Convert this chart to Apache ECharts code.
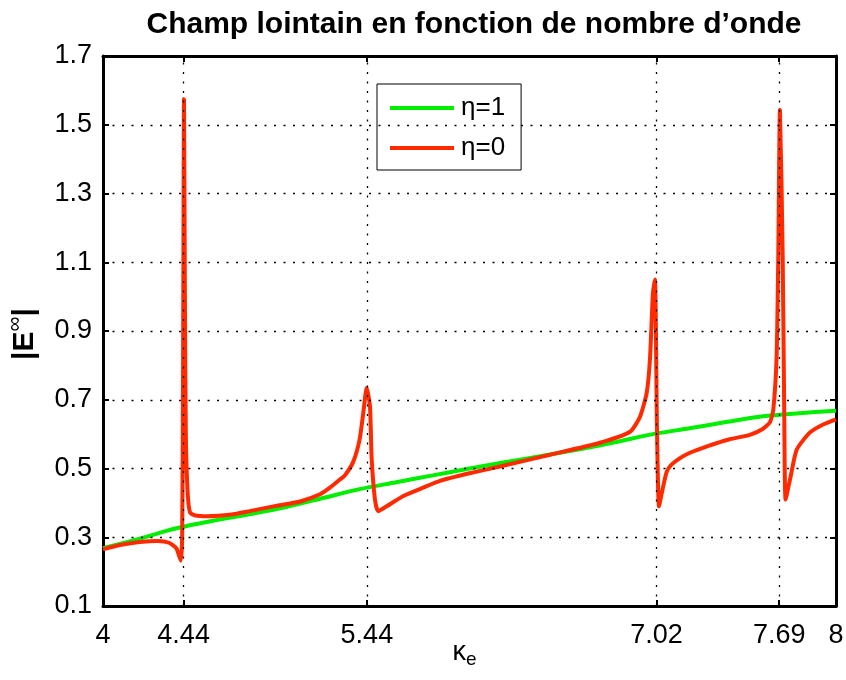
<!DOCTYPE html>
<html>
<head>
<meta charset="utf-8">
<script src="https://cdn.jsdelivr.net/npm/echarts@6/dist/echarts.min.js"></script>
<style>
  html, body { margin: 0; padding: 0; background: #fff; }
  #chart { width: 846px; height: 680px; }
</style>
</head>
<body>
<div id="chart"></div>
<script>
// Far-field magnitude |E∞| versus wave number κe
const titleText = 'Champ lointain en fonction de nombre d’onde';
const xTicks = [4, 4.44, 5.44, 7.02, 7.69, 8];
const yTicks = [0.1, 0.3, 0.5, 0.7, 0.9, 1.1, 1.3, 1.5, 1.7];

// η = 1
const kGreen = [4.0, 4.2, 4.4, 4.6, 4.8, 5.0, 5.2, 5.4, 5.6, 5.8, 6.0, 6.2, 6.4, 6.6, 6.8, 7.0, 7.2, 7.4, 7.6, 7.8, 8.0];
const eGreen = [0.268, 0.296, 0.326, 0.348, 0.367, 0.388, 0.414, 0.44, 0.46, 0.48, 0.5, 0.519, 0.537, 0.556, 0.577, 0.6, 0.617, 0.635, 0.652, 0.661, 0.668];

// η = 0
const kRed = [4.00, 4.10, 4.20, 4.30, 4.36, 4.40, 4.416, 4.425, 4.432, 4.437, 4.442, 4.447, 4.452, 4.462, 4.475, 4.50, 4.57, 4.70, 4.80, 4.95, 5.075,
  5.184, 5.24, 5.293, 5.32, 5.366, 5.40, 5.42, 5.439, 5.457, 5.466, 5.484, 5.502, 5.548, 5.639, 5.75, 5.839, 6.0, 6.166, 6.44, 6.712, 6.876,
  6.93, 6.967, 6.985, 7.001, 7.012, 7.023, 7.034, 7.05, 7.076, 7.10, 7.149, 7.2, 7.3, 7.42, 7.53, 7.6, 7.64,
  7.658, 7.676, 7.685, 7.694, 7.709, 7.718, 7.725, 7.749, 7.786, 7.858, 7.93, 8.0];
const eRed = [0.265, 0.278, 0.286, 0.289, 0.284, 0.268, 0.245, 0.232, 0.30, 0.80, 1.575, 1.00, 0.60, 0.43, 0.372, 0.364, 0.361, 0.366, 0.376, 0.392, 0.404,
  0.425, 0.445, 0.468, 0.48, 0.52, 0.583, 0.66, 0.735, 0.68, 0.53, 0.41, 0.376, 0.39, 0.42, 0.445, 0.464, 0.486, 0.506, 0.54, 0.575, 0.607,
  0.65, 0.72, 0.82, 1.01, 1.05, 0.62, 0.39, 0.43, 0.49, 0.51, 0.53, 0.545, 0.565, 0.585, 0.598, 0.615, 0.635,
  0.672, 0.826, 1.117, 1.544, 1.12, 0.634, 0.41, 0.468, 0.555, 0.605, 0.628, 0.643];

const pairs = (xs, ys) => xs.map((x, i) => [x, ys[i]]);

const FONT = '"Liberation Sans", Arial, Helvetica, sans-serif';
const BLACK = '#000';

const gridX = xTicks.slice(1, -1).map(v => ({ xAxis: v }));
const gridY = yTicks.slice(1, -1).map(v => ({ yAxis: v }));

const chart = echarts.init(document.getElementById('chart'), null, { renderer: 'canvas' });

const baseX = {
  type: 'value', min: 4, max: 8,
  axisLine: { show: true, onZero: false, lineStyle: { color: BLACK, width: 3 } },
  axisTick: { show: true, inside: true, length: 6, customValues: xTicks, lineStyle: { color: BLACK, width: 2 } },
  splitLine: { show: false }
};
const baseY = {
  type: 'value', min: 0.1, max: 1.7,
  axisLine: { show: true, onZero: false, lineStyle: { color: BLACK, width: 3 } },
  axisTick: { show: true, inside: true, length: 6, customValues: yTicks, lineStyle: { color: BLACK, width: 2 } },
  splitLine: { show: false }
};

chart.setOption({
  animation: false,
  backgroundColor: '#fff',
  graphic: [{
    type: 'text',
    x: 474, y: 10,
    silent: true,
    style: {
      text: titleText,
      textAlign: 'center',
      textVerticalAlign: 'top',
      fontFamily: FONT, fontWeight: 'bold', fontSize: 30,
      fill: BLACK
    }
  }],
  grid: { left: 103, right: 10, top: 56, bottom: 74, containLabel: false, outerBoundsMode: 'none' },
  legend: {
    orient: 'vertical',
    left: 377, top: 84,
    data: ['η=1', 'η=0'],
    icon: 'rect',
    itemWidth: 64, itemHeight: 4,
    itemGap: 14,
    padding: [11, 16, 9, 13],
    backgroundColor: '#fff',
    borderColor: BLACK, borderWidth: 1, borderRadius: 0,
    textStyle: { fontFamily: FONT, fontSize: 26, color: BLACK, padding: [0, 0, 0, 2] }
  },
  xAxis: [
    Object.assign({}, baseX, {
      position: 'bottom',
      name: '{k|κ}{e|e}',
      nameLocation: 'middle',
      nameGap: 30,
      nameMoveOverlap: false,
      nameTextStyle: {
        padding: [0, 10, 0, 0],
        rich: {
          k: { fontFamily: FONT, fontSize: 27, color: BLACK },
          e: { fontFamily: FONT, fontSize: 19, color: BLACK, padding: [14, 0, 0, 0] }
        }
      },
      axisLabel: { show: true, customValues: xTicks, margin: 16, fontFamily: FONT, fontSize: 27, color: BLACK,
        formatter: v => String(v) }
    }),
    Object.assign({}, baseX, { position: 'top', axisLabel: { show: false } })
  ],
  yAxis: [
    Object.assign({}, baseY, {
      position: 'left',
      name: '{a||E}{s|∞}{a||}',
      nameLocation: 'middle',
      nameRotate: 90,
      nameGap: 59,
      nameMoveOverlap: false,
      nameTextStyle: {
        padding: [0, 6, 0, 0],
        rich: {
          a: { fontFamily: FONT, fontSize: 30, fontWeight: 'bold', color: BLACK },
          s: { fontFamily: FONT, fontSize: 21, color: BLACK, padding: [0, 0, 18, 0] }
        }
      },
      axisLabel: { show: true, customValues: yTicks, margin: 11, fontFamily: FONT, fontSize: 27, color: BLACK,
        formatter: v => v.toFixed(1) }
    }),
    Object.assign({}, baseY, { position: 'right', axisLabel: { show: false } })
  ],
  series: [
    {
      name: 'grid',
      type: 'line',
      data: [],
      z: 1,
      silent: true,
      markLine: {
        silent: true,
        symbol: ['none', 'none'],
        label: { show: false },
        animation: false,
        lineStyle: { color: BLACK, width: 1.3, type: [2, 7.5] },
        emphasis: { disabled: true },
        data: gridX.concat(gridY)
      }
    },
    {
      name: 'η=1',
      type: 'line',
      data: pairs(kGreen, eGreen),
      showSymbol: false,
      smooth: 0.3,
      z: 3,
      color: '#00ee00',
      lineStyle: { color: '#00ee00', width: 4 }
    },
    {
      name: 'η=0',
      type: 'line',
      data: pairs(kRed, eRed),
      showSymbol: false,
      smooth: 0.2,
      z: 4,
      color: '#ff2a00',
      lineStyle: { color: '#ff2a00', width: 4 }
    }
  ]
});
</script>
</body>
</html>
